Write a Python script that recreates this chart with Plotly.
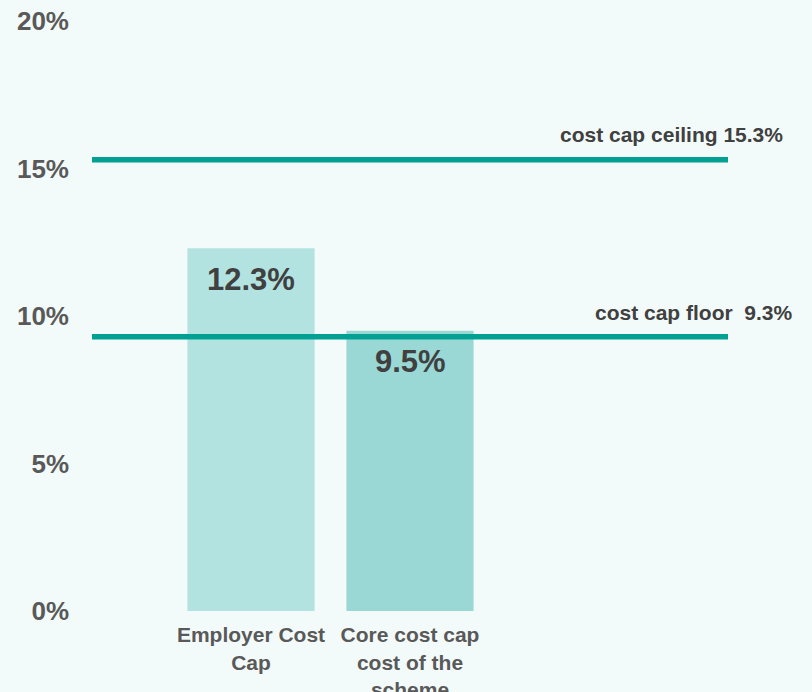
import plotly.graph_objects as go

categories = ["Employer Cost<br>Cap", "Core cost cap<br>cost of the<br>scheme"]
values = [12.3, 9.5]
bar_labels = ["12.3%", "9.5%"]
bar_colors = ["#b3e3e0", "#9ad8d5"]

ceiling = 15.3
floor = 9.3
y_ticks = [0, 5, 10, 15, 20]
y_tick_labels = ["0%", "5%", "10%", "15%", "20%"]

x_pos = [1, 2]
FONT = "Liberation Sans, Arial, sans-serif"
BG = "#f3fbfa"

fig = go.Figure()
fig.add_trace(go.Bar(x=x_pos, y=values, width=0.8, marker=dict(color=bar_colors, line=dict(width=0)),
                     hoverinfo="skip", showlegend=False))
for v in (ceiling, floor):
    fig.add_trace(go.Scatter(x=[0, 4], y=[v, v], mode="lines",
                             line=dict(color="#00a093", width=5.5), showlegend=False, hoverinfo="skip"))

for xv, v, t in zip(x_pos, values, bar_labels):
    fig.add_annotation(x=xv, y=v, text=t, showarrow=False, yanchor="middle", yshift=-31,
                       font=dict(family=FONT, size=31, color="#404040", weight="bold"))

fig.add_annotation(x=4, y=ceiling, text="cost cap ceiling 15.3%", showarrow=False,
                   xanchor="right", yanchor="middle", xshift=57, yshift=25,
                   font=dict(family=FONT, size=21, color="#404040", weight="bold"))
fig.add_annotation(x=4, y=floor, text="cost cap floor  9.3%", showarrow=False,
                   xanchor="right", yanchor="middle", xshift=67, yshift=24,
                   font=dict(family=FONT, size=21, color="#404040", weight="bold"))

fig.update_layout(
    width=812, height=692,
    margin=dict(l=92, r=84, t=21, b=81),
    paper_bgcolor=BG, plot_bgcolor=BG,
    xaxis=dict(range=[0, 4], tickvals=x_pos, ticktext=categories, showgrid=False, zeroline=False,
               showline=False, ticks="outside", ticklen=5, tickcolor="rgba(0,0,0,0)",
               automargin=False, fixedrange=True,
               tickfont=dict(family=FONT, size=21, color="#595959", weight="bold")),
    yaxis=dict(range=[0, 20], tickvals=y_ticks, ticktext=y_tick_labels, showgrid=False, zeroline=False,
               showline=False, ticks="", ticklabelstandoff=22, automargin=False, fixedrange=True,
               tickfont=dict(family=FONT, size=26, color="#595959", weight="bold")),
)

fig.write_html("out.html", config={"displayModeBar": False, "staticPlot": True},
               post_script="document.body.style.margin='0';document.body.style.background='%s';"
                           "document.body.style.overflow='hidden';" % BG)
